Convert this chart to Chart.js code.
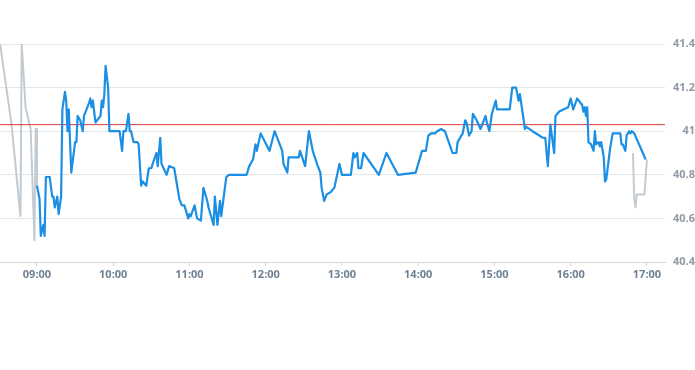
<!DOCTYPE html>
<html>
<head>
<meta charset="utf-8">
<script src="https://cdn.jsdelivr.net/npm/chart.js@4/dist/chart.umd.min.js"></script>
<style>
  html, body { margin: 0; padding: 0; background: #fff; }
  #wrap { position: relative; width: 695px; height: 282px; }
</style>
</head>
<body>
<div id="wrap"><canvas id="chart"></canvas></div>
<script>
// pre-market (grey)
const preTimes = ['08:31', '08:40', '08:47', '08:48', '08:51', '08:55', '08:58', '08:59', '09:00', '09:00'];
const preValues = [41.40, 41.03, 40.61, 41.40, 41.11, 41.01, 40.50, 41.01, 41.01, 40.75];

// session (blue)
const mainTimes = [
  '09:00', '09:02', '09:03', '09:05', '09:06', '09:07', '09:10', '09:12', '09:13', '09:14',
  '09:16', '09:17', '09:19', '09:20', '09:22', '09:23', '09:24', '09:25', '09:27', '09:30',
  '09:31', '09:32', '09:34', '09:36', '09:37', '09:41', '09:42', '09:43', '09:44', '09:46',
  '09:50', '09:51', '09:52', '09:53', '09:54', '09:56', '09:57', '10:01', '10:05', '10:07',
  '10:08', '10:10', '10:12', '10:13', '10:14', '10:16', '10:19', '10:20', '10:22', '10:23',
  '10:26', '10:28', '10:30', '10:31', '10:34', '10:35', '10:37', '10:38', '10:42', '10:44',
  '10:48', '10:52', '10:54', '10:56', '10:59', '11:00', '11:01', '11:04', '11:06', '11:09',
  '11:11', '11:14', '11:15', '11:19', '11:20', '11:22', '11:24', '11:25', '11:29', '11:31',
  '11:36', '11:45', '11:47', '11:50', '11:52', '11:53', '11:56', '12:03', '12:07', '12:13',
  '12:14', '12:17', '12:18', '12:26', '12:27', '12:31', '12:34', '12:37', '12:41', '12:43',
  '12:44', '12:46', '12:48', '12:51', '12:54', '12:58', '13:00', '13:07', '13:09', '13:10',
  '13:12', '13:13', '13:15', '13:17', '13:29', '13:35', '13:44', '13:58', '14:03', '14:06',
  '14:08', '14:10', '14:13', '14:15', '14:18', '14:21', '14:27', '14:30', '14:31', '14:34',
  '14:35', '14:37', '14:38', '14:40', '14:42', '14:43', '14:46', '14:49', '14:53', '14:54',
  '14:56', '14:58', '15:01', '15:02', '15:12', '15:14', '15:17', '15:19', '15:20', '15:21',
  '15:24', '15:25', '15:30', '15:38', '15:40', '15:42', '15:44', '15:47', '15:48', '15:51',
  '15:58', '16:00', '16:02', '16:05', '16:09', '16:10', '16:11', '16:12', '16:13', '16:14',
  '16:16', '16:18', '16:19', '16:20', '16:22', '16:23', '16:24', '16:26', '16:27', '16:28',
  '16:31', '16:33', '16:39', '16:40', '16:41', '16:43', '16:44', '16:46', '16:47', '16:48',
  '16:50', '16:59'
];
const mainValues = [
  40.75, 40.69, 40.52, 40.57, 40.52, 40.79, 40.79, 40.70, 40.70, 40.65,
  40.70, 40.62, 40.70, 41.10, 41.18, 41.14, 41.00, 41.10, 40.81, 40.95,
  40.95, 41.07, 41.05, 41.00, 41.07, 41.13, 41.15, 41.11, 41.14, 41.04,
  41.07, 41.14, 41.11, 41.17, 41.30, 41.20, 41.00, 41.00, 41.00, 40.91,
  41.00, 41.00, 41.08, 41.00, 41.00, 40.95, 40.95, 40.94, 40.75, 40.77,
  40.75, 40.83, 40.83, 40.85, 40.90, 40.84, 40.97, 40.85, 40.80, 40.84,
  40.83, 40.69, 40.66, 40.66, 40.60, 40.62, 40.61, 40.66, 40.60, 40.59,
  40.74, 40.68, 40.65, 40.57, 40.70, 40.57, 40.68, 40.61, 40.79, 40.80,
  40.80, 40.80, 40.84, 40.87, 40.94, 40.91, 40.99, 40.91, 41.00, 40.91,
  40.85, 40.81, 40.88, 40.88, 40.91, 40.84, 41.00, 40.91, 40.84, 40.81,
  40.74, 40.68, 40.71, 40.72, 40.74, 40.85, 40.80, 40.80, 40.90, 40.88,
  40.90, 40.83, 40.83, 40.90, 40.80, 40.90, 40.80, 40.81, 40.91, 40.91,
  40.98, 40.99, 40.99, 41.00, 41.01, 41.00, 40.90, 40.90, 40.95, 40.98,
  40.99, 41.05, 41.04, 40.98, 41.00, 41.08, 41.05, 41.01, 41.07, 41.04,
  41.00, 41.08, 41.14, 41.10, 41.10, 41.20, 41.20, 41.14, 41.17, 41.13,
  41.01, 41.02, 41.00, 40.97, 40.97, 40.84, 41.03, 40.90, 41.07, 41.09,
  41.11, 41.15, 41.10, 41.15, 41.12, 41.09, 41.11, 41.07, 41.11, 40.95,
  40.94, 40.91, 41.00, 40.94, 40.95, 40.93, 40.95, 40.88, 40.77, 40.78,
  40.92, 40.99, 40.99, 40.94, 40.94, 40.91, 40.98, 41.00, 40.99, 41.00,
  40.99, 40.87
];

// after hours (grey)
const postTimes = ['16:49', '16:50', '16:51', '16:52', '16:58', '17:00'];
const postValues = [40.90, 40.69, 40.65, 40.71, 40.71, 40.87];

const refValue = 41.03;
const yTicks = [40.4, 40.6, 40.8, 41, 41.2, 41.4];
const hourTicks = ['09:00', '10:00', '11:00', '12:00', '13:00', '14:00', '15:00', '16:00', '17:00'];

function toMin(t) {
  const [h, m] = t.split(':').map(Number);
  return h * 60 + m;
}
function fmt(v) {
  const h = Math.floor(v / 60), m = Math.round(v % 60);
  return String(h).padStart(2, '0') + ':' + String(m).padStart(2, '0');
}
const pts = (times, vals) => times.map((t, i) => ({ x: toMin(t), y: vals[i] }));

const xMin = 510.9;
const xMax = 1034.2;

new Chart(document.getElementById('chart'), {
  type: 'line',
  data: {
    datasets: [
      {
        data: pts(mainTimes, mainValues),
        borderColor: '#1a8fe3',
        borderWidth: 2.2,
        order: 0
      },
      {
        data: [{ x: xMin, y: refValue }, { x: xMax, y: refValue }],
        borderColor: '#dc3a3a',
        borderWidth: 1,
        order: 1
      },
      {
        data: pts(preTimes, preValues),
        borderColor: '#c3cbd2',
        borderWidth: 2,
        order: 2
      },
      {
        data: pts(postTimes, postValues),
        borderColor: '#c3cbd2',
        borderWidth: 2,
        order: 2
      }
    ]
  },
  options: {
    responsive: true,
    maintainAspectRatio: false,
    animation: false,
    layout: { padding: { top: 44, left: 0, right: 0, bottom: 0 } },
    elements: {
      point: { radius: 0 },
      line: { tension: 0, borderJoinStyle: 'round' }
    },
    plugins: {
      legend: { display: false },
      tooltip: { enabled: false }
    },
    scales: {
      x: {
        type: 'linear',
        min: xMin,
        max: xMax,
        afterBuildTicks: (scale) => {
          scale.ticks = hourTicks.map(t => ({ value: toMin(t) }));
        },
        afterFit: (scale) => { scale.height = 20; },
        grid: {
          drawOnChartArea: false,
          drawTicks: true,
          tickLength: 4,
          color: '#cfd6dc'
        },
        border: { display: true, color: '#cfd6dc' },
        ticks: {
          autoSkip: false,
          maxRotation: 0,
          padding: 2,
          color: '#708194',
          font: { family: 'Open Sans', size: 11, weight: 'bold' },
          callback: (v) => fmt(v)
        }
      },
      y: {
        position: 'right',
        min: 40.4,
        max: 41.4,
        afterBuildTicks: (scale) => {
          scale.ticks = yTicks.map(v => ({ value: v }));
        },
        afterFit: (scale) => { scale.width = 30; },
        grid: {
          drawTicks: false,
          color: '#e4e7ea'
        },
        border: { display: false },
        ticks: {
          crossAlign: 'far',
          padding: 0,
          color: '#8f9aa6',
          font: { family: 'Open Sans', size: 11, weight: 'bold' },
          callback: (v) => String(Math.round(v * 10) / 10)
        }
      }
    }
  }
});
</script>
</body>
</html>
